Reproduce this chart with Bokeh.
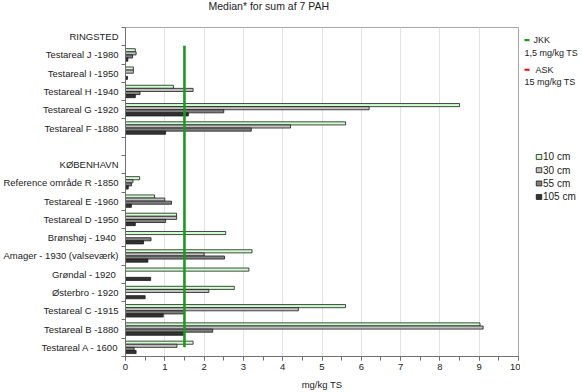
import math
from bokeh.plotting import figure
from bokeh.layouts import row, column
from bokeh.models import Range1d, FixedTicker, ColumnDataSource
from bokeh.core.properties import value
from bokeh.embed import file_html
from bokeh.resources import INLINE

nan = float("nan")

title_text = "Median* for sum af 7 PAH"
x_label = "mg/kg TS"

categories = [
    "RINGSTED", "Testareal J -1980", "Testareal I -1950", "Testareal H -1940",
    "Testareal G -1920", "Testareal F -1880", "", "KØBENHAVN",
    "Reference område R -1850", "Testareal E -1960", "Testareal D -1950",
    "Brønshøj  - 1940", "Amager - 1930 (valseværk)", "Grøndal  - 1920",
    "Østerbro - 1920", "Testareal C -1915", "Testareal B -1880", "Testareal A - 1600",
]

depth_names = ["10 cm", "30 cm", "55 cm", "105 cm"]
v10 = [nan, 0.25, 0.20, 1.22, 8.50, 5.60, nan, nan, 0.36, 0.74, 1.30, 2.55, 3.22, 3.14, 2.77, 5.60, 9.02, 1.72]
v30 = [nan, 0.27, 0.20, 1.72, 6.20, 4.20, nan, nan, 0.19, 1.00, 1.30, nan, 2.00, nan, 2.12, 4.40, 9.10, 1.31]
v55 = [nan, 0.18, nan, 0.37, 2.50, 3.20, nan, nan, 0.15, 1.17, 1.02, 0.65, 2.52, nan, nan, 1.50, 2.22, 0.22]
v105 = [nan, 0.06, 0.05, 0.25, 1.60, 1.02, nan, nan, 0.07, 0.15, 0.25, 0.46, 0.57, 0.64, 0.50, 0.96, 1.50, 0.27]

jkk_value = 1.5
jkk_label = ["JKK", "1,5 mg/kg TS"]
ask_value = 15
ask_label = ["ASK", "15 mg/kg TS"]

depth_colors = ["#ccffcc", "#c0c0c0", "#808080", "#333333"]
FONT = "Liberation Sans"

n = len(categories)
centers = [n - 0.5 - i for i in range(n)]

TOP = 26  # height of the title strip


def blank(fig):
    fig.min_border = 0
    fig.axis.visible = False
    fig.grid.visible = False
    fig.outline_line_color = None
    fig.background_fill_color = "white"
    fig.border_fill_color = "white"


# title strip
tf = figure(width=582, height=TOP, output_backend="svg", toolbar_location=None,
            x_range=Range1d(0, 582), y_range=Range1d(TOP, 0))
blank(tf)
tf.text(x=[208], y=[5.5], text=[title_text], text_font=value(FONT),
        text_font_size="10.5px", text_color="#222222", text_baseline="middle",
        text_align="left")

# main chart
p = figure(width=520, height=392 - TOP, output_backend="svg", toolbar_location=None,
           x_range=Range1d(0, 10), y_range=Range1d(0, n))
p.min_border_left = 124
p.min_border_right = 2
p.min_border_bottom = 35
p.min_border_top = 1
p.outline_line_color = "#a6a6a6"
p.outline_line_width = 1
p.background_fill_color = "white"
p.border_fill_color = "white"

offsets = [0.255, 0.085, -0.085, -0.255]
bar_h = 0.17
series = [v10, v30, v55, v105]
for vals, off, col in zip(series, offsets, depth_colors):
    src = ColumnDataSource(dict(y=[c + off for c in centers], right=vals))
    p.hbar(y="y", right="right", left=0, height=bar_h, source=src,
           fill_color=col, line_color="#1a1a1a", line_width=0.8)

# JKK limit line
p.segment(x0=[jkk_value], x1=[jkk_value], y0=[0.5], y1=[n - 1.0],
          line_color="#1c9a1c", line_width=2.6)

# x axis
p.xaxis.ticker = FixedTicker(ticks=list(range(0, 11)),
                             minor_ticks=[i * 0.5 for i in range(0, 21)])
p.xaxis.axis_label = x_label
p.xaxis.axis_label_text_font = FONT
p.xaxis.axis_label_text_font_size = "9.5px"
p.xaxis.axis_label_text_font_style = "normal"
p.xaxis.axis_label_text_color = "#222222"
p.xaxis.axis_label_standoff = 6
p.xaxis.major_label_text_font = FONT
p.xaxis.major_label_text_font_size = "9.5px"
p.xaxis.major_label_text_color = "#222222"
p.xaxis.major_label_standoff = 3
p.xaxis.axis_line_color = "#707070"
p.xaxis.major_tick_line_color = "#707070"
p.xaxis.minor_tick_line_color = "#707070"
p.xaxis.major_tick_out = 4
p.xaxis.major_tick_in = 0
p.xaxis.minor_tick_out = 4
p.xaxis.minor_tick_in = 0

# y axis
p.yaxis.ticker = FixedTicker(ticks=centers, minor_ticks=list(range(0, n + 1)))
p.yaxis.major_label_overrides = {c: lab for c, lab in zip(centers, categories)}
p.yaxis.major_label_text_font = FONT
p.yaxis.major_label_text_font_size = "9.5px"
p.yaxis.major_label_text_color = "#222222"
p.yaxis.major_label_standoff = 3
p.yaxis.major_tick_line_color = None
p.yaxis.major_tick_out = 4
p.yaxis.major_tick_in = 0
p.yaxis.minor_tick_line_color = "#707070"
p.yaxis.minor_tick_out = 4
p.yaxis.minor_tick_in = 0
p.yaxis.axis_line_color = "#707070"

p.xgrid.grid_line_color = "#e2e2e2"
p.xgrid.grid_line_width = 1
p.ygrid.grid_line_color = None

# legend panel (coordinates in pixels of this strip, top-down)
lg = figure(width=62, height=392 - TOP, output_backend="svg", toolbar_location=None,
            x_range=Range1d(0, 62), y_range=Range1d(392 - TOP, 0))
blank(lg)

lg.segment(x0=[4], x1=[9], y0=[40 - TOP], y1=[40 - TOP], line_color="#1c9a1c", line_width=2.2)
lg.segment(x0=[4], x1=[9], y0=[73 - TOP], y1=[73 - TOP], line_color="#ff0000", line_width=2.2)
lg.text(x=[13, 4, 15, 4], y=[40 - TOP, 54 - TOP, 73 - TOP, 87 - TOP],
        text=[jkk_label[0], jkk_label[1], ask_label[0], ask_label[1]],
        text_font=value(FONT), text_font_size="9px", text_color="#222222",
        text_baseline="middle", text_align="left")

sq_y = [170 - TOP, 184.7 - TOP, 199.5 - TOP, 214.5 - TOP]
lg.rect(x=[18.5] * 4, y=sq_y, width=5.5, height=5.5, fill_color=depth_colors,
        line_color="#1a1a1a", line_width=0.8)
lg.text(x=[22.5] * 4, y=sq_y, text=depth_names, text_font=value(FONT),
        text_font_size="10px", text_color="#222222", text_baseline="middle",
        text_align="left")

layout = column(tf, row(p, lg, spacing=0), spacing=0)
open("out.html", "w").write(file_html(layout, INLINE))
